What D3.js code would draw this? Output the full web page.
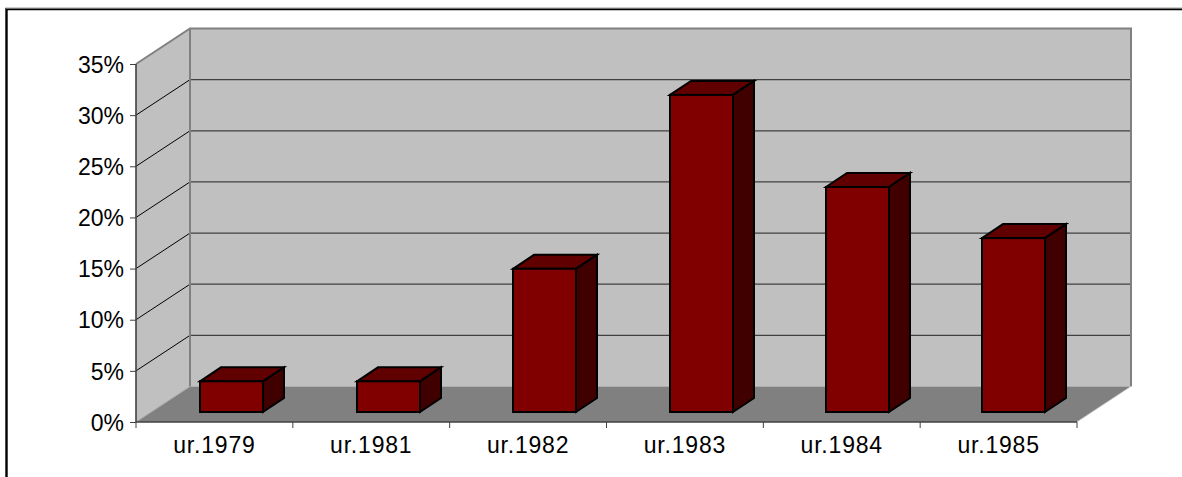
<!DOCTYPE html>
<html><head><meta charset="utf-8">
<script src="https://cdn.jsdelivr.net/npm/d3@7"></script>
<style>html,body{margin:0;padding:0;background:#fff}svg{display:block}text{font-family:"Liberation Sans",Arial,sans-serif;fill:#000}</style>
</head><body><svg id="c" width="1182" height="477"></svg>
<script>
const categories = ["ur.1979","ur.1981","ur.1982","ur.1983","ur.1984","ur.1985"];
const values = [3,3,14,31,22,17];
const yTicks = [0,5,10,15,20,25,30,35];

const svg = d3.select("#c");
const W0=136, W1=1077, Y0=422, Y35=64, DX=54, DY=-35.5;
const x = d3.scaleBand().domain(categories).range([W0,W1]);
const y = d3.scaleLinear().domain([0,35]).range([Y0,Y35]);
const barX = d3.scaleBand().domain(categories).range([200.3,1138.7]);
const barW=63, bDX=21, bDY=-14, barBase=-10;
const line=d3.line();

// frame
svg.append("path").attr("d",line([[6.5,477],[6.5,9],[1182,9]])).attr("fill","none").attr("stroke","#000").attr("stroke-width",2.4);
svg.append("line").attr("x1",6).attr("x2",1182).attr("y1",8).attr("y2",8).attr("stroke","#ddd").attr("stroke-width",1);

// walls
const g=svg.append("g");
g.append("path").attr("d",line([[W0,y(0)],[W0+DX,y(0)+DY],[W0+DX,y(35)+DY],[W0,y(35)]])+"Z").attr("fill","#c0c0c0");
g.append("rect").attr("x",W0+DX).attr("y",y(35)+DY).attr("width",W1-W0).attr("height",y(0)-y(35)).attr("fill","#c0c0c0");
g.append("path").attr("d",line([[W0,y(0)],[W1,y(0)],[W1+DX,y(0)+DY],[W0+DX,y(0)+DY]])+"Z").attr("fill","#808080");

// gridlines
yTicks.filter(t=>t>0&&t<35).forEach(t=>{
  g.append("path").attr("d",line([[W0,y(t)],[W0+DX,y(t)+DY]])).attr("fill","none").attr("stroke","#000").attr("stroke-width",1);
  g.append("line").attr("x1",W0+DX).attr("x2",W1+DX).attr("y1",y(t)+DY).attr("y2",y(t)+DY).attr("stroke","#404040").attr("stroke-width",1.2);
});
// wall edges
g.append("path").attr("d",line([[W0,y(35)],[W0+DX,y(35)+DY],[W1+DX,y(35)+DY],[W1+DX,y(0)+DY]])).attr("fill","none").attr("stroke","#808080").attr("stroke-width",2);
g.append("path").attr("d",line([[W0+DX,y(35)+DY],[W0+DX,y(0)+DY]])).attr("fill","none").attr("stroke","#808080").attr("stroke-width",2);
g.append("path").attr("d",line([[W0,y(0)],[W0+DX,y(0)+DY]])).attr("fill","none").attr("stroke","#a8a8a8").attr("stroke-width",1);
g.append("path").attr("d",line([[W1,y(0)],[W1+DX,y(0)+DY]])).attr("fill","none").attr("stroke","#d8d8d8").attr("stroke-width",1);

// axes
const yAxis=d3.axisLeft(y).tickValues(yTicks).tickFormat(d=>d+"%").tickSize(6).tickPadding(6);
const ya=svg.append("g").attr("transform",`translate(${W0},0)`).call(yAxis);
const xAxis=d3.axisBottom(x).tickSize(0).tickPadding(15);
const xa=svg.append("g").attr("transform",`translate(0,${Y0})`).call(xAxis);
xa.selectAll(".tick line").remove();
xa.selectAll(".tk").data(d3.range(categories.length+1)).enter().append("line")
  .attr("x1",i=>W0+i*x.step()).attr("x2",i=>W0+i*x.step()).attr("y1",0).attr("y2",6).attr("stroke","#404040");
[ya,xa].forEach(a=>{a.selectAll("path.domain").attr("stroke","#404040").attr("stroke-width",1.6);a.selectAll(".tick line").attr("stroke","#404040");a.selectAll("text").attr("font-size",23).attr("fill","#000").attr("font-family","Liberation Sans");});
ya.selectAll("text").attr("dy","0.36em");
xa.selectAll("text").attr("letter-spacing",0.8);
xa.selectAll("path.domain").attr("d",`M${W0},0H${W1}`);
ya.selectAll("path.domain").attr("d",`M0,${Y35}V${Y0}`);

// bars
const bars=svg.selectAll(".bar").data(categories.map((c,i)=>({c,v:values[i]}))).enter().append("g").attr("class","bar");
const by=v=>y(v)+barBase;
const sx=d=>Math.round(barX(d.c));
const bst={stroke:"#000","stroke-width":2,"stroke-linejoin":"miter"};
function st(s){Object.entries(bst).forEach(([k,v])=>s.attr(k,v));return s;}
st(bars.append("path").attr("d",d=>line([[sx(d),by(d.v)],[sx(d)+bDX,by(d.v)+bDY],[sx(d)+barW+bDX,by(d.v)+bDY],[sx(d)+barW,by(d.v)]])+"Z").attr("fill","#600000"));
st(bars.append("path").attr("d",d=>line([[sx(d)+barW,by(d.v)],[sx(d)+barW+bDX,by(d.v)+bDY],[sx(d)+barW+bDX,by(0)+bDY],[sx(d)+barW,by(0)]])+"Z").attr("fill","#400000"));
st(bars.append("rect").attr("x",sx).attr("y",d=>by(d.v)).attr("width",barW).attr("height",d=>by(0)-by(d.v)).attr("fill","#800000"));
</script></body></html>
